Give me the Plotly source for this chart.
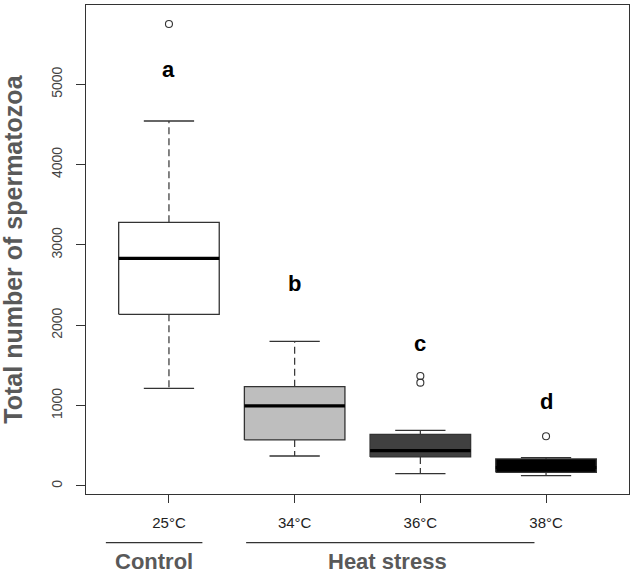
import plotly.graph_objects as go

# ---- data ----
groups = ["25°C", "34°C", "36°C", "38°C"]
lower_whisker = [1216, 373, 153, 128]
q1 = [2137, 573, 361, 170]
median = [2834, 996, 440, 230]
q3 = [3282, 1236, 643, 336]
upper_whisker = [4543, 1801, 693, 352]
outliers = [[5750], [], [1369, 1286], [618]]
letters = ["a", "b", "c", "d"]
letter_y = [5190, 2523, 1776, 1049]
fills = ["#FFFFFF", "#BEBEBE", "#404040", "#000000"]
y_ticks = [0, 1000, 2000, 3000, 4000, 5000]
group_labels = ["Control", "Heat stress"]
y_title = "Total number of spermatozoa"

EDGE = "#333333"
HALF = 0.4
CAP = 0.2
FONT = "Arial, Liberation Sans, sans-serif"

fig = go.Figure()
pos = list(range(1, len(groups) + 1))
for i, p in enumerate(pos):
    # whiskers (dashed)
    fig.add_trace(go.Scatter(
        x=[p, p, None, p, p], y=[q3[i], upper_whisker[i], None, q1[i], lower_whisker[i]],
        mode="lines", line=dict(color=EDGE, width=1.2, dash="7px,4px"),
        hoverinfo="skip", showlegend=False))
    # caps
    fig.add_trace(go.Scatter(
        x=[p - CAP, p + CAP, None, p - CAP, p + CAP],
        y=[upper_whisker[i], upper_whisker[i], None, lower_whisker[i], lower_whisker[i]],
        mode="lines", line=dict(color=EDGE, width=1.3),
        hoverinfo="skip", showlegend=False))
    # box
    fig.add_trace(go.Scatter(
        x=[p - HALF, p + HALF, p + HALF, p - HALF, p - HALF],
        y=[q1[i], q1[i], q3[i], q3[i], q1[i]],
        mode="lines", fill="toself", fillcolor=fills[i],
        line=dict(color=EDGE, width=1.3), hoverinfo="skip", showlegend=False))
    # median
    fig.add_trace(go.Scatter(
        x=[p - HALF, p + HALF], y=[median[i], median[i]],
        mode="lines", line=dict(color="#000000", width=3.2),
        hoverinfo="skip", showlegend=False))
    # outliers
    if outliers[i]:
        fig.add_trace(go.Scatter(
            x=[p] * len(outliers[i]), y=outliers[i], mode="markers",
            marker=dict(symbol="circle-open", size=7, color=EDGE, line=dict(width=1.1)),
            hoverinfo="skip", showlegend=False))

# significance letters
for p, t, yv in zip(pos, letters, letter_y):
    fig.add_annotation(x=p, y=yv, text="<b>%s</b>" % t, showarrow=False,
                       font=dict(family=FONT, size=22, color="#000000"),
                       xanchor="center", yanchor="middle")

# group underlines and labels
spans = [(0.498, 1.266), (1.614, 3.908)]
centers = [0.878, 2.741]
for (a, b), c, lab in zip(spans, centers, group_labels):
    fig.add_shape(type="line", xref="x", yref="paper", x0=a, x1=b, y0=-0.0996, y1=-0.0996,
                  line=dict(color=EDGE, width=1.3))
    fig.add_annotation(xref="x", yref="paper", x=c, y=-0.139, text="<b>%s</b>" % lab,
                       showarrow=False, font=dict(family=FONT, size=22, color="#595959"),
                       xanchor="center", yanchor="middle")

# y-axis title
fig.add_annotation(xref="paper", yref="paper", x=-0.136, y=0.5, text="<b>%s</b>" % y_title,
                   textangle=-90, showarrow=False, xanchor="center", yanchor="middle",
                   font=dict(family=FONT, size=25, color="#595959"))

fig.update_layout(
    width=634, height=575,
    margin=dict(l=86, r=5, t=5, b=81),
    paper_bgcolor="white", plot_bgcolor="white",
    font=dict(family=FONT),
    xaxis=dict(range=[0.34, 4.66], tickvals=pos, ticktext=groups, automargin=False,
               ticks="outside", ticklen=8, tickcolor=EDGE, tickwidth=1.2,
               showline=True, mirror=True, linecolor=EDGE, linewidth=1.3,
               showgrid=False, zeroline=False,
               tickfont=dict(family=FONT, size=15, color="#222222"),
               ticklabelstandoff=7),
    yaxis=dict(range=[-100, 5987], tickvals=y_ticks, tickangle=-90, automargin=False,
               ticks="outside", ticklen=9, tickcolor=EDGE, tickwidth=1.2,
               showline=True, mirror=True, linecolor=EDGE, linewidth=1.3,
               showgrid=False, zeroline=False,
               tickfont=dict(family=FONT, size=14, color="#444444"),
               ticklabelstandoff=8),
)

fig.write_html("out.html",
               config={"displayModeBar": False},
               post_script=["document.body.style.margin='0px';"
                            "document.body.style.overflow='hidden';"])
